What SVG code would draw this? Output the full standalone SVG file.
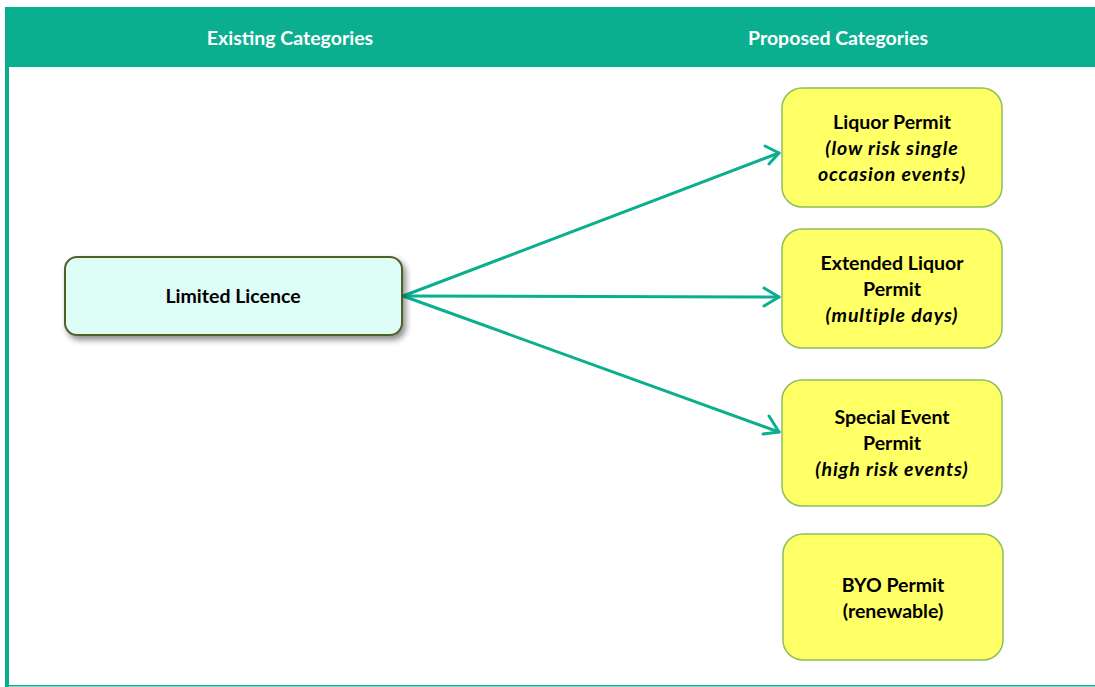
<svg xmlns="http://www.w3.org/2000/svg" width="1095" height="687" viewBox="0 0 1095 687">
<style>
.hdr{font-family:Lato,"Open Sans","Liberation Sans",sans-serif;font-weight:bold;font-size:19.5px;fill:#ffffff;text-anchor:middle}
.t{font-family:Lato,"Open Sans","Liberation Sans",sans-serif;font-weight:bold;font-size:19.5px;fill:#000000;text-anchor:middle}
.i{font-style:italic;letter-spacing:0.9px}
.yb{fill:#FFFF66;stroke:#8DBF5B;stroke-width:1.5}
.conn{stroke:#0AAF8F;stroke-width:3;fill:none;stroke-linecap:round;stroke-linejoin:round}
</style>
<defs>
<filter id="sh" x="-10%" y="-20%" width="130%" height="160%">
<feGaussianBlur in="SourceAlpha" stdDeviation="3"/>
<feOffset dx="3" dy="4" result="b"/>
<feComponentTransfer><feFuncA type="linear" slope="0.45"/></feComponentTransfer>
<feMerge><feMergeNode/><feMergeNode in="SourceGraphic"/></feMerge>
</filter>
</defs>
<rect x="0" y="0" width="1095" height="687" fill="#ffffff"/>
<g id="frame">
<rect x="5" y="7" width="1090" height="60" fill="#0AAF8F"/>
<rect x="5" y="67" width="4" height="620" fill="#0AAF8F"/>
<rect x="5" y="685" width="1090" height="1.5" fill="#0AAF8F"/>
<text class="hdr" x="290" y="45">Existing Categories</text>
<text class="hdr" x="838" y="45">Proposed Categories</text>
</g>
<g id="connectors">
<path class="conn" d="M403,296 L779,153"/>
<path class="conn" d="M765,146 L779,153 L769,164"/>
<path class="conn" d="M403,296 L779,297"/>
<path class="conn" d="M764,288 L779,297 L764,306"/>
<path class="conn" d="M403,296 L779,432"/>
<path class="conn" d="M769,416 L779,432 L763,434"/>
</g>
<g id="limited">
<rect x="65" y="257" width="337" height="78" rx="12" fill="#DDFDF6" stroke="#4F6228" stroke-width="2" filter="url(#sh)"/>
<text class="t" x="233" y="303">Limited Licence</text>
</g>
<g id="liquor">
<rect class="yb" x="782" y="88" width="220" height="119" rx="20"/>
<text class="t" x="892" y="129">Liquor Permit</text>
<text class="t i" x="892" y="155">(low risk single</text>
<text class="t i" x="892" y="181">occasion events)</text>
</g>
<g id="extended">
<rect class="yb" x="782" y="229" width="220" height="119" rx="20"/>
<text class="t" x="892" y="270">Extended Liquor</text>
<text class="t" x="892" y="296">Permit</text>
<text class="t i" x="892" y="322">(multiple days)</text>
</g>
<g id="special">
<rect class="yb" x="782" y="380" width="220" height="126" rx="20"/>
<text class="t" x="892" y="424">Special Event</text>
<text class="t" x="892" y="450">Permit</text>
<text class="t i" x="892" y="476">(high risk events)</text>
</g>
<g id="byo">
<rect class="yb" x="783" y="534" width="220" height="126" rx="20"/>
<text class="t" x="893" y="592">BYO Permit</text>
<text class="t" x="893" y="618">(renewable)</text>
</g>
</svg>
